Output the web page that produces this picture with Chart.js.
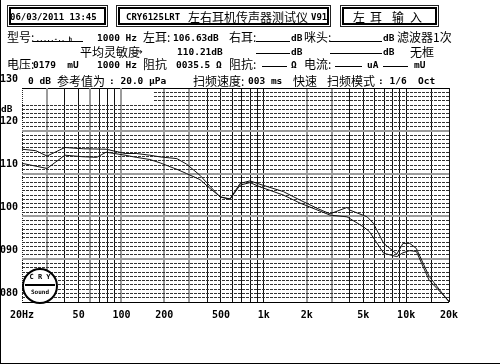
<!DOCTYPE html>
<html>
<head>
<meta charset="utf-8">
<script src="https://cdn.jsdelivr.net/npm/chart.js@4.4.1/dist/chart.umd.min.js"></script>
<style>
  html, body { margin: 0; padding: 0; background: #fff; }
  #wrap { position: relative; width: 500px; height: 364px; overflow: hidden; }
  #c { position: absolute; left: 0; top: 0; }
  #frame { position: absolute; left: 0; top: 0; width: 499px; height: 363px; border-left: 1px solid #000; border-bottom: 1px solid #000; pointer-events: none; }
  .t { position: absolute; white-space: pre; line-height: 1; color: #000; }
  .m { font: bold 9.5px "DejaVu Sans Mono", monospace; }
  .h { font: bold 9px "DejaVu Sans Mono", monospace; }
  .tiny { font: bold 6px "DejaVu Sans Mono", monospace; }
  .c { font: 12px "Noto Sans CJK SC", sans-serif; }
  .box { position: absolute; box-sizing: border-box; border: 1px solid #222; box-shadow: inset 0 0 0 1px #fff, inset 0 0 0 3px #000; }
  .ul { position: absolute; height: 0; border-top: 1px solid #000; }
  #logo { position: absolute; left: 22px; top: 268px; width: 36px; height: 36px; box-sizing: border-box; border: 2px solid #000; border-radius: 50%; background: #fff; text-align: center; }
  #logo .a { font: bold 7px "DejaVu Sans Mono", monospace; margin-top: 4px; line-height: 7px; }
  #logo .b { height: 2px; background: #000; margin: 3px 1px; }
  #logo .d { font: bold 6px "DejaVu Sans Mono", monospace; line-height: 6px; }
</style>
</head>
<body>
<div id="wrap">
  <canvas id="c" width="500" height="364"></canvas>
  <div id="over"></div>
  <div id="logo"><div class="a">C R Y</div><div class="b"></div><div class="d">Sound</div></div>
  <div id="frame"></div>
</div>
<script>
// left ear frequency response, two sweeps (Hz / dB)
const FREQ_A = [20, 25, 30, 40, 54, 78, 106, 127, 158, 187, 245, 287, 356, 420, 494, 579, 681, 800, 940, 1370,
                1800, 2400, 2920, 3840, 4000, 5320, 5880, 6950, 8600, 9500, 10600, 11800, 14500, 20000];
const SPL_A = [115.7, 115.35, 114.1, 116.1, 115.8, 115.7, 114.7, 114.7, 114.3, 113.9, 113.5, 112.2, 109.6, 107.0, 104.5, 104.1, 107.7, 108.3, 107.5, 105.8,
               103.8, 101.8, 100.6, 102.1, 101.5, 99.9, 98.4, 93.7, 91.2, 93.7, 93.7, 92.5, 86.0, 80.0];

const FREQ_B = [20, 30, 40, 53, 67, 78, 106, 127, 158, 187, 245, 287, 356, 420, 494, 579, 681, 800, 940, 1370,
                1800, 2920, 3840, 4990, 5500, 6950, 8600, 9500, 10600, 11800, 14500, 20000];
const SPL_B = [112.4, 111.2, 114.3, 113.95, 113.8, 115.0, 114.3, 113.8, 113.3, 112.5, 111.0, 110.0, 108.6, 106.5, 104.6, 104.0, 107.3, 107.9, 106.9, 105.0,
               103.1, 100.3, 99.9, 97.6, 96.5, 91.4, 90.6, 91.5, 92.0, 91.8, 85.1, 80.2];

// axes
const F_MIN = 20, F_MAX = 20000;
const DB_MIN = 80, DB_MAX = 130;
const GRID_FREQS = [20, 30, 40, 50, 60, 70, 80, 90, 100, 200, 300, 400, 500, 600, 700, 800, 900,
                    1000, 2000, 3000, 4000, 5000, 6000, 7000, 8000, 9000, 10000, 15000, 20000];
const GRAY_FREQS = [30, 60, 100, 200, 300, 2000, 3000];
const LABEL_FREQS = [20, 50, 100, 200, 500, 1000, 2000, 5000, 10000, 20000];
const LABEL_TEXT = ['20Hz', '50', '100', '200', '500', '1k', '2k', '5k', '10k', '20k'];

// blank strip under the header text (top left of the plot)
const PATCH_FREQ = 167, PATCH_DB = 126.5;

const GRAY = '#9c9c9c';

function xLine(v) {
    if (v === F_MIN) return { color: '#222', width: 1, dash: [1, 1] };
    if (GRAY_FREQS.includes(v)) return { color: GRAY, width: 2, dash: [] };
    return { color: '#111', width: 1, dash: [] };
}

function yLine(v) {
    if (v === DB_MIN || v === DB_MAX) return { color: '#000', width: 1, dash: [] };
    if (v % 10 === 0) return { color: GRAY, width: 2, dash: [] };
    return { color: '#333', width: 1, dash: [3, 1] };
}

// header texts: text, left x, centre y, style
const TEXTS = [
    ['06/03/2011 13:45', 10, 16, 'h'],
    ['CRY6125LRT', 126, 16, 'h'],
    ['左右耳机传声器测试仪', 188, 16.5, 'c'],
    ['V91', 311, 16, 'h'],
    ['左', 353, 16.5, 'c'], ['耳', 370, 16.5, 'c'], ['输', 392, 16.5, 'c'], ['入', 410, 16.5, 'c'],

    ['型号:', 7, 37, 'c'],
    ['.....-.. h', 36, 38, 'tiny'],
    ['1000 Hz', 97, 36.5, 'm'],
    ['左耳:', 143, 37, 'c'],
    ['106.63dB', 173, 36.5, 'm'],
    ['右耳:', 229, 37, 'c'], ['dB', 291, 36.5, 'm'],
    ['咪头:', 304, 37, 'c'], ['dB', 383, 36.5, 'm'],
    ['滤波器1次', 397, 37, 'c'],

    ['平均灵敏度', 80, 52, 'c'],
    ['➔', 137, 50.5, 'm'],
    ['110.21dB', 177, 50.5, 'm'],
    ['dB', 291, 50.5, 'm'], ['dB', 383, 50.5, 'm'],
    ['无框', 410, 51.5, 'c'],

    ['电压:', 7, 64, 'c'],
    ['0179  mU', 33, 63.5, 'm'],
    ['1000 Hz', 97, 63.5, 'm'],
    ['阻抗', 143, 64, 'c'],
    ['0035.5 Ω', 176, 63.5, 'm'],
    ['阻抗:', 229, 64, 'c'], ['Ω', 291, 63.5, 'm'],
    ['电流:', 304, 64, 'c'], ['uA', 367, 63.5, 'm'], ['mU', 414, 63.5, 'm'],

    ['0 dB', 28, 79.5, 'm'],
    ['参考值为', 57, 80.5, 'c'],
    [': 20.0 μPa', 109, 79.5, 'm'],
    ['扫频速度:', 193, 80.5, 'c'],
    ['003 ms', 248, 79.5, 'm'],
    ['快速', 293, 80.5, 'c'],
    ['扫频模式', 327, 80.5, 'c'],
    [': 1/6  Oct', 378, 79.5, 'm'],
    ['dB', 1, 108, 'm']
];
const TEXT_SHIFT = { m: 4.6, h: 4.3, tiny: 3, c: 8.6 };

const BOXES = [[7, 5, 101, 22], [116, 5, 215, 22], [340, 5, 99, 22]];
const UNDERLINES = [[33, 83, 41], [256, 290, 41.5], [330, 382, 41.5], [256, 290, 53], [330, 382, 53],
                    [262, 287, 66], [335, 362, 66], [383, 408, 66]];

// Build header overlay
function buildHeader() {
    const over = document.getElementById('over');
    BOXES.forEach(b => {
        const d = document.createElement('div');
        d.className = 'box';
        d.style.cssText = `left:${b[0]}px;top:${b[1]}px;width:${b[2]}px;height:${b[3]}px`;
        over.appendChild(d);
    });
    UNDERLINES.forEach(u => {
        const d = document.createElement('div');
        d.className = 'ul';
        d.style.cssText = `left:${u[0]}px;top:${Math.floor(u[2])}px;width:${u[1] - u[0]}px`;
        over.appendChild(d);
    });
    TEXTS.forEach(([txt, x, cy, k]) => {
        const s = document.createElement('div');
        s.className = 't ' + k;
        s.textContent = txt;
        s.style.left = x + 'px';
        s.style.top = (cy - TEXT_SHIFT[k]) + 'px';
        over.appendChild(s);
    });
}

// white strip in the top left corner, vertical lines kept
const topPatch = {
    id: 'topPatch',
    beforeDatasetsDraw(chart) {
        const { ctx, chartArea: a, scales: { x, y } } = chart;
        const xr = x.getPixelForValue(PATCH_FREQ);
        const yb = y.getPixelForValue(PATCH_DB);
        ctx.save();
        ctx.fillStyle = '#fff';
        ctx.fillRect(a.left + 1, a.top + 1, xr - a.left - 1, yb - a.top - 1);
        x.ticks.forEach(t => {
            const px = x.getPixelForValue(t.value);
            if (px <= a.left + 1 || px >= xr) return;
            const g = xLine(t.value);
            const ax = Math.round(px - g.width / 2) + g.width / 2;
            ctx.strokeStyle = g.color;
            ctx.lineWidth = g.width;
            ctx.beginPath();
            ctx.moveTo(ax, a.top);
            ctx.lineTo(ax, yb);
            ctx.stroke();
        });
        ctx.restore();
    }
};

const tickFont = { family: 'DejaVu Sans Mono', size: 10, weight: 'bold' };

function createChart() {
    const ctx = document.getElementById('c').getContext('2d');
    new Chart(ctx, {
        type: 'line',
        data: {
            datasets: [{
                data: FREQ_A.map((f, i) => ({ x: f, y: SPL_A[i] })),
                borderColor: '#111',
                borderWidth: 1,
                pointRadius: 0,
                tension: 0,
                fill: false
            }, {
                data: FREQ_B.map((f, i) => ({ x: f, y: SPL_B[i] })),
                borderColor: '#111',
                borderWidth: 1,
                pointRadius: 0,
                tension: 0,
                fill: false
            }]
        },
        options: {
            responsive: false,
            animation: false,
            devicePixelRatio: 1,
            events: [],
            layout: { padding: { top: 88, right: 51, bottom: 0, left: 0 } },
            plugins: { legend: { display: false }, tooltip: { enabled: false } },
            scales: {
                x: {
                    type: 'logarithmic',
                    min: F_MIN,
                    max: F_MAX,
                    afterBuildTicks: s => { s.ticks = GRID_FREQS.map(v => ({ value: v })); },
                    afterFit: s => { s.height = 62; },
                    grid: {
                        drawTicks: false,
                        color: c => c.tick ? xLine(c.tick.value).color : '#000',
                        lineWidth: c => c.tick ? xLine(c.tick.value).width : 1
                    },
                    border: { display: false, dash: c => c.tick ? xLine(c.tick.value).dash : [] },
                    ticks: {
                        autoSkip: false,
                        maxRotation: 0,
                        padding: 7,
                        color: '#000',
                        font: tickFont,
                        callback: v => {
                            const i = LABEL_FREQS.indexOf(v);
                            return i < 0 ? '' : LABEL_TEXT[i];
                        }
                    }
                },
                y: {
                    min: DB_MIN,
                    max: DB_MAX,
                    afterFit: s => { s.width = 22; },
                    grid: {
                        drawTicks: false,
                        color: c => c.tick ? yLine(c.tick.value).color : '#000',
                        lineWidth: c => c.tick ? yLine(c.tick.value).width : 1
                    },
                    border: { display: false, dash: c => c.tick ? yLine(c.tick.value).dash : [] },
                    ticks: {
                        stepSize: 1,
                        maxTicksLimit: 60,
                        autoSkip: false,
                        crossAlign: 'far',
                        labelOffset: -9,
                        padding: 0,
                        color: '#000',
                        font: tickFont,
                        callback: v => v % 10 === 0 ? String(v).padStart(3, '0') : ''
                    }
                }
            }
        },
        plugins: [topPatch]
    });
}

buildHeader();
createChart();
</script>
</body>
</html>
